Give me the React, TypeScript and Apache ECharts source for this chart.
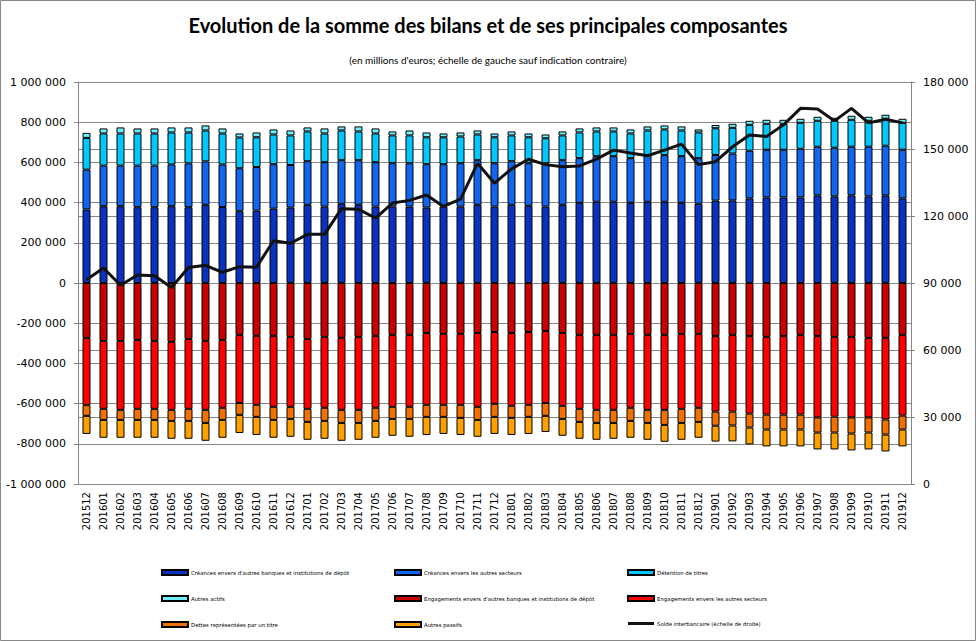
import React, { useEffect, useRef } from "react";
import * as echarts from "echarts";

const categories = [
  "201512", "201601", "201602", "201603", "201604", "201605", "201606", "201607", "201608", "201609",
  "201610", "201611", "201612", "201701", "201702", "201703", "201704", "201705", "201706", "201707",
  "201708", "201709", "201710", "201711", "201712", "201801", "201802", "201803", "201804", "201805",
  "201806", "201807", "201808", "201809", "201810", "201811", "201812", "201901", "201902", "201903",
  "201904", "201905", "201906", "201907", "201908", "201909", "201910", "201911", "201912",
];

const creancesBanques = [
  366000, 382000, 382000, 377000, 377000, 382000, 377000, 389000, 378000, 357000,
  360000, 370000, 375000, 389000, 380000, 394000, 389000, 380000, 380000, 380000,
  375000, 380000, 380000, 389000, 380000, 389000, 384000, 380000, 389000, 399000,
  404000, 404000, 399000, 404000, 404000, 399000, 394000, 410000, 411000, 421000,
  426000, 426000, 426000, 436000, 431000, 436000, 431000, 436000, 421000,
];
const creancesSecteurs = [
  198000, 202000, 202000, 207000, 207000, 208000, 218000, 216000, 212000, 214000,
  217000, 221000, 212000, 217000, 221000, 217000, 222000, 221000, 216000, 216000,
  216000, 211000, 216000, 222000, 216000, 217000, 212000, 216000, 222000, 222000,
  227000, 227000, 222000, 232000, 232000, 232000, 227000, 227000, 233000, 237000,
  237000, 237000, 242000, 242000, 242000, 242000, 247000, 247000, 242000,
];
const detentionTitres = [
  158000, 160000, 160000, 160000, 160000, 159000, 154000, 154000, 154000, 153000,
  148000, 148000, 147000, 148000, 143000, 148000, 143000, 143000, 138000, 138000,
  134000, 134000, 133000, 128000, 129000, 128000, 129000, 124000, 123000, 128000,
  123000, 123000, 123000, 123000, 128000, 128000, 128000, 133000, 128000, 129000,
  129000, 129000, 129000, 129000, 134000, 134000, 129000, 134000, 134000,
];
const autresActifs = [
  25000, 25000, 30000, 25000, 25000, 25000, 25000, 25000, 25000, 20000,
  24000, 25000, 25000, 20000, 25000, 20000, 25000, 25000, 20000, 25000,
  24000, 19000, 20000, 20000, 19000, 20000, 19000, 19000, 20000, 20000,
  20000, 20000, 20000, 20000, 20000, 20000, 15000, 16000, 20000, 20000,
  20000, 20000, 20000, 20000, 15000, 20000, 20000, 20000, 20000,
];
const engagementsBanques = [
  -273000, -288000, -288000, -283000, -288000, -293000, -278000, -288000, -283000, -258000,
  -263000, -263000, -268000, -278000, -268000, -273000, -268000, -263000, -258000, -258000,
  -249000, -253000, -253000, -249000, -244000, -249000, -244000, -239000, -249000, -258000,
  -258000, -258000, -253000, -258000, -258000, -253000, -253000, -264000, -258000, -264000,
  -268000, -264000, -258000, -264000, -268000, -268000, -273000, -273000, -258000,
];
const engagementsSecteurs = [
  -335000, -338000, -343000, -343000, -338000, -338000, -348000, -343000, -338000, -339000,
  -343000, -353000, -348000, -348000, -353000, -358000, -363000, -358000, -358000, -358000,
  -357000, -353000, -353000, -367000, -357000, -362000, -362000, -358000, -362000, -368000,
  -373000, -373000, -368000, -373000, -373000, -373000, -368000, -376000, -382000, -386000,
  -387000, -391000, -397000, -405000, -397000, -401000, -396000, -406000, -402000,
];
const dettesTitres = [
  -53000, -55000, -50000, -55000, -55000, -55000, -60000, -65000, -60000, -59000,
  -60000, -65000, -60000, -65000, -65000, -65000, -65000, -65000, -60000, -60000,
  -60000, -60000, -65000, -65000, -65000, -60000, -60000, -64000, -65000, -65000,
  -65000, -65000, -65000, -65000, -75000, -70000, -70000, -70000, -69000, -69000,
  -74000, -74000, -74000, -75000, -79000, -80000, -75000, -75000, -69000,
];
const autresPassifs = [
  -90000, -89000, -89000, -89000, -89000, -89000, -89000, -89000, -89000, -90000,
  -90000, -89000, -89000, -89000, -89000, -89000, -84000, -84000, -84000, -89000,
  -90000, -85000, -85000, -84000, -85000, -85000, -85000, -80000, -84000, -84000,
  -84000, -79000, -84000, -84000, -84000, -84000, -79000, -79000, -79000, -84000,
  -84000, -84000, -84000, -84000, -84000, -84000, -84000, -84000, -84000,
];
const soldeInterbancaire = [
  91500, 96700, 89000, 93600, 93200, 88000, 96900, 97900, 94800, 97300,
  97100, 108900, 107800, 111800, 111800, 123300, 123000, 119100, 125800, 127000,
  129400, 124300, 127600, 143600, 134700, 141100, 145400, 143000, 142100, 142400,
  145500, 149500, 148200, 147000, 149500, 152200, 143000, 144300, 151000, 156300,
  155600, 160800, 168200, 167900, 162600, 168200, 161700, 163300, 161700,
];

const names = [
  "Créances envers d'autres banques et institutions de dépôt",
  "Créances envers les autres secteurs",
  "Détention de titres",
  "Autres actifs",
  "Engagements envers d'autres banques et institutions de dépôt",
  "Engagements envers les autres secteurs",
  "Dettes représentées par un titre",
  "Autres passifs",
  "Solde interbancaire (échelle de droite)",
];

const fmt = (v: number) => {
  const s = String(Math.abs(v)).replace(/\B(?=(\d{3})+(?!\d))/g, " ");
  return v < 0 ? "-" + s : s;
};

export default function App() {
  const ref = useRef<HTMLDivElement>(null);
  useEffect(() => {
    document.body.style.margin = "0";
    const chart = echarts.init(ref.current!, null, { renderer: "svg" });
    const barSeries = (name: string, data: number[], color: string) => ({
      name,
      type: "bar",
      stack: "total",
      data,
      barWidth: 8,
      itemStyle: { color, borderColor: "#000", borderWidth: 1 },
      yAxisIndex: 0,
    });
    const axisFont = { fontFamily: "DejaVu Sans", fontSize: 11, color: "#000" };
    const legendBase = {
      orient: "vertical",
      top: 569,
      itemWidth: 26,
      itemHeight: 5,
      itemGap: 19,
      padding: 0,
      icon: "rect",
      selectedMode: false,
      textStyle: { fontFamily: "DejaVu Sans", fontSize: 5.4, color: "#000", padding: [0, 0, 0, -2] },
    };
    const lineLegendItem = {
      name: names[8],
      icon: "path://M0 0H26V3H0Z",
      itemStyle: { color: "#111", borderWidth: 0 },
    };
    chart.setOption({
      animation: false,
      backgroundColor: "#fff",
      title: [
        {
          text: "Evolution de la somme des bilans et de ses principales composantes",
          left: "center",
          top: 10,
          textStyle: { fontFamily: "Lato", fontWeight: "bold", fontSize: 20, color: "#000" },
        },
        {
          text: "(en millions d'euros; échelle de gauche sauf indication contraire)",
          left: "center",
          top: 50,
          textStyle: { fontFamily: "Lato", fontWeight: "normal", fontSize: 10, color: "#000" },
        },
      ],
      graphic: [
        {
          type: "rect",
          shape: { x: 0.5, y: 0.5, width: 975, height: 640 },
          style: { fill: "none", stroke: "#878787", lineWidth: 1 },
          silent: true,
        },
      ],
      legend: [
        { ...legendBase, left: 161, data: [names[0], names[3], names[6]] },
        { ...legendBase, left: 394, data: [names[1], names[4], names[7]] },
        { ...legendBase, left: 627, data: [names[2], names[5], lineLegendItem] },
      ],
      grid: { left: 78, right: 65, top: 82, bottom: 157, containLabel: false, outerBoundsMode: "none" },
      xAxis: {
        type: "category",
        data: categories,
        boundaryGap: true,
        axisLine: { onZero: false, lineStyle: { color: "#868686" } },
        axisTick: { show: false },
        axisLabel: { ...axisFont, fontSize: 10, rotate: 90, interval: 0, margin: 8 },
        splitLine: { show: false },
      },
      yAxis: [
        {
          type: "value",
          min: -1000000,
          max: 1000000,
          interval: 200000,
          position: "left",
          axisLine: { show: true, lineStyle: { color: "#868686" } },
          axisTick: { show: true, length: 4, lineStyle: { color: "#868686" } },
          axisLabel: { ...axisFont, margin: 12, formatter: (v: number) => fmt(v) },
          splitLine: { show: true, lineStyle: { color: "#868686", width: 1 } },
        },
        {
          type: "value",
          min: 0,
          max: 180000,
          interval: 30000,
          position: "right",
          axisLine: { show: true, lineStyle: { color: "#868686" } },
          axisTick: { show: true, length: 4, lineStyle: { color: "#868686" } },
          axisLabel: { ...axisFont, margin: 12, formatter: (v: number) => fmt(v) },
          splitLine: { show: true, lineStyle: { color: "#868686", width: 1 } },
        },
      ],
      series: [
        barSeries(names[0], creancesBanques, "#0a32c0"),
        barSeries(names[1], creancesSecteurs, "#1166f0"),
        barSeries(names[2], detentionTitres, "#00c8ff"),
        barSeries(names[3], autresActifs, "#70f0ff"),
        barSeries(names[4], engagementsBanques, "#c80000"),
        barSeries(names[5], engagementsSecteurs, "#ff0000"),
        barSeries(names[6], dettesTitres, "#f07000"),
        barSeries(names[7], autresPassifs, "#ffa000"),
        {
          name: names[8],
          type: "line",
          yAxisIndex: 1,
          data: soldeInterbancaire,
          symbol: "none",
          lineStyle: { color: "#111", width: 3 },
          itemStyle: { color: "#111" },
          z: 5,
        },
      ],
    });
    return () => chart.dispose();
  }, []);
  return (
    <div
      ref={ref}
      style={{ position: "absolute", left: 0, top: 0, width: 976, height: 641 }}
    />
  );
}
